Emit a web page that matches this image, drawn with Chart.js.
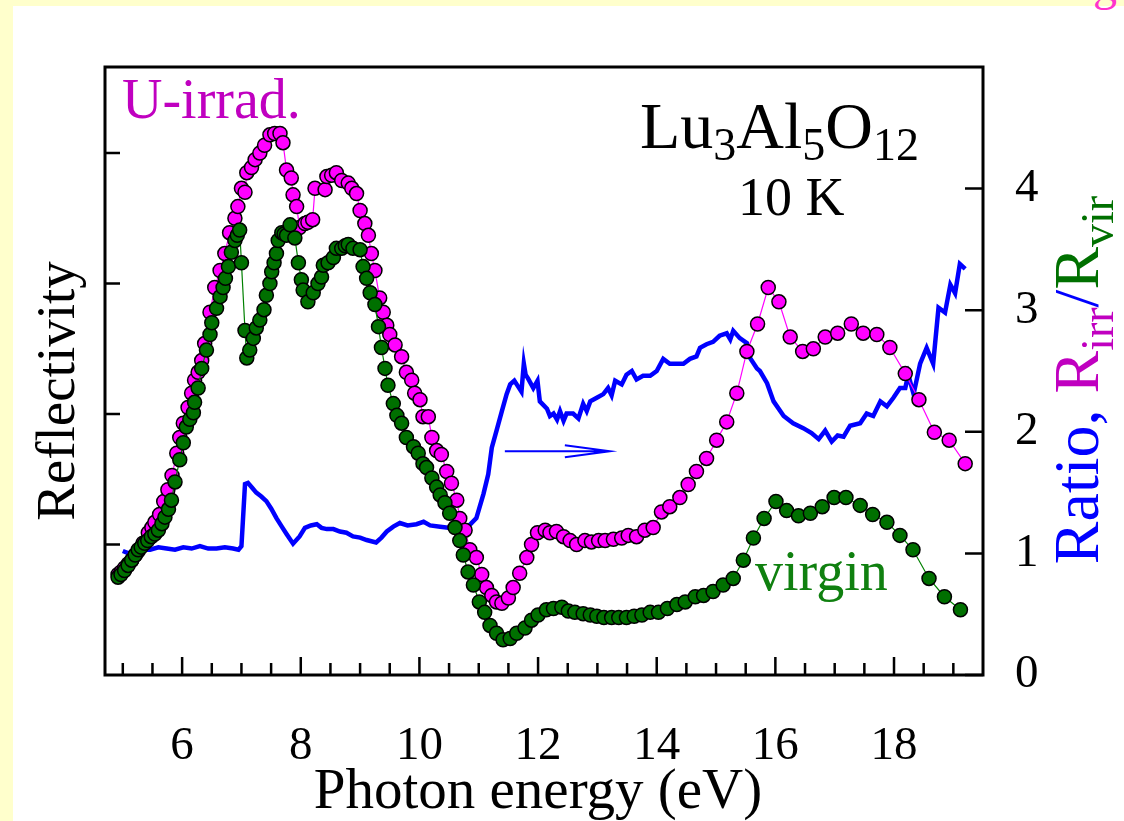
<!DOCTYPE html>
<html>
<head>
<meta charset="utf-8">
<script src="https://cdn.jsdelivr.net/npm/chart.js@4.4.0/dist/chart.umd.min.js"></script>
<style>
  html, body { margin: 0; padding: 0; background: #FFFFCC; overflow: hidden; }
  #panel { position: absolute; left: 13px; top: 6px; width: 1111px; height: 815px; background: #fff; }
  #corner { position: absolute; left: 1093px; top: -44px; font: 48px "Liberation Serif"; color: #FF33CC; }
  #wrap { position: absolute; left: 0; top: 0; width: 1124px; height: 821px; }
</style>
</head>
<body>
<div id="panel"></div>
<div id="corner">g</div>
<div id="wrap"><canvas id="chart" width="1124" height="821"></canvas></div>
<script>
// U-irradiated reflectivity (left axis)
const energyIrr = [4.92,4.97,5.03,5.09,5.15,5.21,5.26,5.34,5.43,5.49,5.54,5.62,5.69,5.76,5.83,5.91,
  5.96,6.02,6.10,6.16,6.21,6.27,6.33,6.38,6.47,6.55,6.64,6.72,6.80,
  6.89,6.94,7.00,7.06,7.09,7.17,7.23,7.31,7.39,7.48,
  7.56,7.65,7.70,7.76,7.84,7.87,7.93,7.98,8.07,8.12,
  8.20,8.24,8.41,8.44,8.52,8.60,8.69,8.80,8.86,8.94,
  9.00,9.08,9.14,9.19,9.25,9.33,9.39,9.45,9.50,9.59,
  9.70,9.78,9.87,9.92,10.01,10.06,10.15,10.21,10.29,10.37,
  10.46,10.54,10.63,10.68,10.77,10.85,10.96,11.05,11.13,11.22,
  11.30,11.39,11.50,11.58,11.69,11.81,11.89,11.99,12.12,12.20,
  12.31,12.43,12.54,12.65,12.79,12.90,13.02,13.13,13.27,13.41,
  13.52,13.66,13.80,13.94,14.08,14.22,14.39,14.53,14.67,14.84,
  15.01,15.18,15.35,15.52,15.70,15.88,16.06,16.25,16.46,16.64,
  16.84,17.05,17.28,17.48,17.71,17.93,18.19,18.42,18.68,18.93,
  19.20];
const reflIrr = [0.077,0.079,0.082,0.085,0.088,0.092,0.095,0.101,0.109,0.113,0.117,0.123,0.133,0.142,0.153,0.170,
  0.182,0.193,0.205,0.216,0.226,0.232,0.241,0.254,0.278,0.297,0.310,0.323,0.339,
  0.350,0.359,0.373,0.370,0.385,0.389,0.395,0.400,0.406,0.414,
  0.415,0.415,0.408,0.387,0.381,0.368,0.359,0.343,0.346,0.347,
  0.349,0.373,0.372,0.382,0.383,0.385,0.379,0.377,0.373,0.369,
  0.356,0.346,0.337,0.323,0.310,0.289,0.278,0.268,0.261,0.253,
  0.244,0.232,0.226,0.216,0.211,0.198,0.198,0.182,0.172,0.169,
  0.156,0.147,0.134,0.120,0.111,0.096,0.090,0.077,0.067,0.061,
  0.056,0.055,0.059,0.067,0.078,0.090,0.100,0.109,0.111,0.109,
  0.110,0.106,0.103,0.100,0.103,0.102,0.103,0.103,0.104,0.105,
  0.107,0.106,0.111,0.113,0.125,0.129,0.136,0.146,0.156,0.166,
  0.180,0.194,0.216,0.248,0.269,0.297,0.286,0.259,0.248,0.250,
  0.259,0.262,0.269,0.262,0.261,0.251,0.231,0.211,0.186,0.180,
  0.162];

// virgin reflectivity (left axis)
const energyVir = [4.92,4.97,5.03,5.09,5.15,5.21,5.26,5.31,5.37,5.42,5.48,5.54,5.60,5.66,5.71,5.77,5.82,5.88,
  5.96,6.02,6.07,6.13,6.19,6.21,6.27,6.33,6.41,6.47,6.50,
  6.58,6.64,6.69,6.73,6.78,6.83,6.89,6.93,6.97,7.00,7.06,
  7.09,7.14,7.20,7.25,7.31,7.38,7.42,7.48,7.51,7.55,7.59,
  7.62,7.68,7.72,7.76,7.82,7.90,7.96,8.01,8.04,8.12,8.21,
  8.29,8.35,8.38,8.46,8.55,8.60,8.69,8.75,8.80,8.88,9.00,
  9.05,9.11,9.17,9.25,9.31,9.36,9.42,9.47,9.56,9.62,
  9.70,9.78,9.90,9.98,10.06,10.12,10.21,10.29,10.35,10.43,
  10.51,10.60,10.68,10.74,10.82,10.91,11.01,11.10,11.19,11.30,
  11.41,11.53,11.64,11.78,11.89,12.00,12.14,12.26,12.40,12.51,
  12.62,12.76,12.88,12.99,13.11,13.24,13.36,13.49,13.62,13.75,
  13.89,14.03,14.18,14.34,14.48,14.65,14.79,14.95,15.12,15.29,
  15.46,15.63,15.81,16.01,16.19,16.39,16.59,16.79,16.99,17.19,
  17.43,17.64,17.88,18.10,18.32,18.59,18.85,19.12];
const reflVir = [0.075,0.077,0.080,0.084,0.088,0.092,0.096,0.098,0.101,0.103,0.106,0.108,0.111,0.116,0.121,0.127,0.134,0.148,
  0.165,0.178,0.190,0.196,0.201,0.209,0.220,0.235,0.249,0.261,0.270,
  0.281,0.290,0.297,0.304,0.313,0.324,0.333,0.337,0.341,0.316,0.264,
  0.243,0.249,0.258,0.266,0.272,0.280,0.291,0.300,0.309,0.316,0.323,
  0.333,0.339,0.338,0.337,0.345,0.335,0.316,0.303,0.295,0.286,0.293,
  0.300,0.305,0.314,0.316,0.320,0.327,0.327,0.329,0.330,0.327,0.326,
  0.313,0.304,0.293,0.284,0.267,0.251,0.235,0.222,0.208,0.199,
  0.193,0.182,0.175,0.170,0.162,0.159,0.151,0.144,0.138,0.132,
  0.124,0.113,0.103,0.092,0.079,0.069,0.056,0.048,0.038,0.032,
  0.027,0.028,0.032,0.036,0.042,0.046,0.050,0.051,0.052,0.049,
  0.048,0.047,0.046,0.045,0.044,0.044,0.044,0.044,0.045,0.046,
  0.048,0.048,0.051,0.054,0.056,0.060,0.061,0.064,0.069,0.074,
  0.088,0.105,0.120,0.133,0.126,0.122,0.124,0.129,0.136,0.136,
  0.130,0.123,0.117,0.107,0.096,0.074,0.060,0.050];

// ratio R_irr / R_vir (right axis)
const energyRatio = [5.00,5.10,5.20,5.33,5.46,5.60,5.74,5.88,6.02,6.16,6.30,6.44,6.58,6.72,6.86,6.95,7.00,7.06,
  7.11,7.18,7.25,7.33,7.42,7.50,7.59,7.68,7.76,7.87,7.98,8.07,8.17,8.27,8.35,8.44,
  8.55,8.66,8.77,8.88,9.00,9.11,9.27,9.36,9.45,9.56,9.67,9.80,9.95,10.07,10.18,10.35,10.52,
  10.68,10.80,10.96,11.08,11.16,11.22,11.30,11.39,11.47,11.53,
  11.60,11.64,11.72,11.76,11.79,11.83,11.92,11.99,12.03,12.15,12.20,12.26,12.32,12.37,12.43,12.48,12.59,12.68,
  12.76,12.82,12.88,12.99,13.10,13.18,13.24,13.30,13.41,
  13.49,13.58,13.66,13.77,13.89,14.00,14.11,14.22,14.34,14.45,
  14.56,14.67,14.73,14.84,14.95,15.06,15.18,15.24,15.29,15.40,15.52,
  15.57,15.69,15.74,15.86,15.97,16.14,16.30,16.47,16.61,16.73,
  16.84,16.95,17.05,17.15,17.26,17.43,17.54,17.65,17.77,17.88,17.99,
  18.10,18.19,18.24,18.33,18.44,18.55,18.66,18.75,18.86,18.95,
  19.03,19.11,19.20];
const ratio = [1.02,1.00,1.04,1.03,1.03,1.05,1.04,1.03,1.05,1.04,1.06,1.04,1.04,1.05,1.04,1.03,1.06,1.57,
  1.58,1.54,1.50,1.47,1.43,1.37,1.29,1.22,1.16,1.08,1.14,1.21,1.23,1.24,1.21,1.20,
  1.20,1.18,1.17,1.14,1.13,1.11,1.09,1.13,1.18,1.22,1.25,1.23,1.24,1.26,1.23,1.22,1.21,
  1.22,1.21,1.29,1.49,1.65,1.87,2.01,2.17,2.31,2.39,
  2.42,2.39,2.33,2.56,2.47,2.44,2.36,2.42,2.25,2.19,2.13,2.15,2.10,2.17,2.09,2.15,2.15,2.11,
  2.23,2.17,2.25,2.28,2.31,2.36,2.30,2.42,2.39,
  2.47,2.50,2.43,2.46,2.46,2.50,2.60,2.56,2.56,2.56,
  2.60,2.62,2.69,2.72,2.74,2.79,2.81,2.76,2.83,2.77,2.73,
  2.61,2.52,2.50,2.40,2.25,2.13,2.07,2.03,1.99,1.94,
  2.01,1.92,1.97,1.96,2.05,2.07,2.15,2.13,2.25,2.21,2.28,
  2.36,2.36,2.47,2.31,2.56,2.69,2.56,3.02,2.98,3.21,
  3.14,3.38,3.34];

const xTickLabels = [6, 8, 10, 12, 14, 16, 18];
const xTicks = [5,5.5,6,6.5,7,7.5,8,8.5,9,9.5,10,10.5,11,11.5,12,12.5,13,13.5,14,14.5,15,15.5,16,16.5,17,17.5,18,18.5,19];
const yLeftTicks = [0.1, 0.2, 0.3, 0.4];
const yRightTicks = [0, 1, 2, 3, 4];

const serif = '"Liberation Serif", "Times New Roman", serif';
const pts = (xs, ys) => xs.map((x, i) => ({ x: x, y: ys[i] }));

// draws a run of [text, colour, isSubscript] pieces from the current origin
function drawRuns(ctx, runs, size, subSize, subDrop) {
  let cx = 0;
  runs.forEach(([t, col, sub]) => {
    ctx.font = (sub ? subSize : size) + 'px ' + serif;
    ctx.fillStyle = col;
    ctx.fillText(t, cx, sub ? subDrop : 0);
    cx += ctx.measureText(t).width;
  });
  return cx;
}
function runsWidth(ctx, runs, size, subSize) {
  let w = 0;
  runs.forEach(([t, , sub]) => {
    ctx.font = (sub ? subSize : size) + 'px ' + serif;
    w += ctx.measureText(t).width;
  });
  return w;
}

const overlay = {
  id: 'overlay',
  afterDraw(chart) {
    const { ctx, chartArea: a, scales } = chart;
    const x = scales.x, yL = scales.yL, yR = scales.yR;
    ctx.save();
    ctx.strokeStyle = '#000';
    ctx.lineWidth = 2.5;
    ctx.beginPath();
    xTicks.forEach(v => {
      const px = x.getPixelForValue(v);
      const len = xTickLabels.includes(v) ? 18 : 12;
      ctx.moveTo(px, a.bottom); ctx.lineTo(px, a.bottom - len);
    });
    yLeftTicks.forEach(v => {
      const py = yL.getPixelForValue(v);
      ctx.moveTo(a.left, py); ctx.lineTo(a.left + 15, py);
    });
    yRightTicks.forEach(v => {
      const py = yR.getPixelForValue(v);
      ctx.moveTo(a.right, py); ctx.lineTo(a.right - 18, py);
    });
    ctx.stroke();
    ctx.lineWidth = 3;
    ctx.strokeRect(a.left, a.top, a.right - a.left, a.bottom - a.top);

    // arrow pointing to the right axis
    const ax0 = x.getPixelForValue(11.44), ax1 = x.getPixelForValue(13.21);
    const ay = yR.getPixelForValue(1.84);
    ctx.strokeStyle = '#0000FF';
    ctx.lineWidth = 2;
    ctx.beginPath();
    ctx.moveTo(ax0, ay); ctx.lineTo(ax1, ay);
    ctx.moveTo(ax1 - 45, ay - 6); ctx.lineTo(ax1, ay); ctx.lineTo(ax1 - 45, ay + 6);
    ctx.stroke();

    ctx.textBaseline = 'alphabetic';
    ctx.textAlign = 'left';
    ctx.font = '56px ' + serif;
    ctx.fillStyle = '#C000C0';
    ctx.fillText('U-irrad.', 122, 118);
    ctx.fillStyle = '#108010';
    ctx.fillText('virgin', 755, 590);

    ctx.save();
    ctx.translate(640, 148);
    drawRuns(ctx, [['Lu', '#000', false], ['3', '#000', true], ['Al', '#000', false],
      ['5', '#000', true], ['O', '#000', false], ['12', '#000', true]], 66, 46, 12);
    ctx.restore();
    ctx.font = '54px ' + serif;
    ctx.fillStyle = '#000';
    ctx.fillText('10 K', 738, 215);

    // axis titles
    ctx.textAlign = 'center';
    ctx.font = '57px ' + serif;
    ctx.fillText('Photon energy (eV)', 538, 808);
    ctx.save();
    ctx.translate(74, 391);
    ctx.rotate(-Math.PI / 2);
    ctx.font = '55px ' + serif;
    ctx.fillText('Reflectivity', 0, 0);
    ctx.restore();

    const rTitle = [['Ratio, ', '#0000FF', false], ['R', '#C000C0', false], ['irr', '#C000C0', true],
      ['/', '#0000FF', false], ['R', '#007000', false], ['vir', '#007000', true]];
    ctx.save();
    ctx.textAlign = 'left';
    const rw = runsWidth(ctx, rTitle, 64, 46);
    ctx.translate(1098, 380 + rw / 2);
    ctx.rotate(-Math.PI / 2);
    drawRuns(ctx, rTitle, 64, 46, 15);
    ctx.restore();
    ctx.restore();
  }
};

new Chart(document.getElementById('chart'), {
  type: 'scatter',
  data: {
    datasets: [
      {
        label: 'virgin',
        data: pts(energyVir, reflVir),
        yAxisID: 'yL',
        showLine: true,
        borderColor: '#008000',
        borderWidth: 1.2,
        pointRadius: 7,
        pointBackgroundColor: '#007000',
        pointBorderColor: '#000',
        pointBorderWidth: 1.5
      },
      {
        label: 'U-irrad.',
        data: pts(energyIrr, reflIrr),
        yAxisID: 'yL',
        showLine: true,
        borderColor: '#FF00FF',
        borderWidth: 1.2,
        pointRadius: 7,
        pointBackgroundColor: '#FF00FF',
        pointBorderColor: '#000',
        pointBorderWidth: 1.5
      },
      {
        label: 'Ratio',
        data: pts(energyRatio, ratio),
        yAxisID: 'yR',
        showLine: true,
        borderColor: '#0000FF',
        borderWidth: 4.5,
        pointRadius: 0
      }
    ]
  },
  options: {
    responsive: false,
    animation: false,
    events: [],
    layout: { padding: { top: 67, left: 0, right: 0, bottom: 0 } },
    plugins: { legend: { display: false }, tooltip: { enabled: false } },
    scales: {
      x: {
        type: 'linear', position: 'bottom', min: 4.7, max: 19.5,
        grid: { display: false }, border: { display: false },
        ticks: { color: '#000', font: { family: serif, size: 47 }, padding: 35 },
        afterBuildTicks: s => { s.ticks = xTickLabels.map(v => ({ value: v })); },
        afterFit: s => { s.height = 146; }
      },
      yL: {
        type: 'linear', position: 'left', min: 0, max: 0.466,
        grid: { display: false }, border: { display: false },
        ticks: { display: false },
        afterFit: s => { s.width = 105; }
      },
      yR: {
        type: 'linear', position: 'right', min: 0, max: 5,
        grid: { display: false }, border: { display: false },
        ticks: { color: '#000', font: { family: serif, size: 47 }, padding: 24 },
        afterBuildTicks: s => { s.ticks = yRightTicks.map(v => ({ value: v })); },
        afterFit: s => { s.width = 141; }
      }
    }
  },
  plugins: [overlay]
});
</script>
</body>
</html>
